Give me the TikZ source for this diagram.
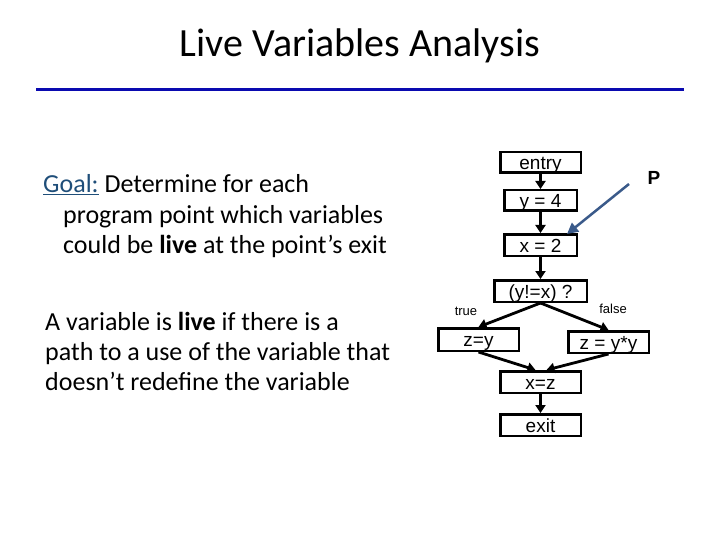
\documentclass[tikz,border=0pt]{standalone}
\usepackage{fontspec}
\setmainfont{Carlito}
\newfontfamily\flowfont{Liberation Sans}
\usetikzlibrary{arrows.meta}
\definecolor{rulecol}{HTML}{0A0AB0}
\definecolor{goalcol}{HTML}{1F4E79}
\definecolor{pcol}{HTML}{3A5A8A}
\tikzset{
  box/.style={draw=black, line width=2.5pt, inner sep=0pt, font=\flowfont\fontsize{19}{19}\selectfont, text height=14pt, text depth=0pt},
  flow/.style={line width=2.8pt, -{Triangle[length=8pt,width=10pt]}},
  lbl/.style={font=\flowfont\fontsize{13}{13}\selectfont, inner sep=0pt},
  body/.style={anchor=base west, inner sep=0pt, font=\fontsize{26}{26}\selectfont}
}
\begin{document}
\begin{tikzpicture}[x=1pt,y=-1pt]
\useasboundingbox (0,0) rectangle (720,540);
% title and rule
\node[anchor=base, inner sep=0pt, font=\fontsize{40}{40}\selectfont] (title) at (360,57) {Live Variables Analysis};
\coordinate (rl) at (36,90);
\coordinate (rr) at (684,90);
\draw[rulecol, line width=3pt] (rl) -- (rr);
% left text
\node[body] (g1) at (43,193) {\textcolor{goalcol}{\underline{Goal:}} Determine for each};
\node[body] (g2) at (63,223) {program point which variables};
\node[body] (g3) at (63,254) {could be \textbf{live} at the point’s exit};
\node[body] (a1) at (45,330) {A variable is \textbf{live} if there is a};
\node[body] (a2) at (45,360) {path to a use of the variable that};
\node[body] (a3) at (45,390) {doesn’t redefine the variable};
% flow chart
\node[box, minimum width=80.5pt, minimum height=20.5pt] (entry) at (540.5,162.5) {entry};
\node[box, minimum width=72.5pt, minimum height=20.5pt] (y4) at (540.5,200.5) {y = 4};
\node[box, minimum width=72.5pt, minimum height=21.5pt] (x2) at (540.5,245) {x = 2};
\node[box, minimum width=92.5pt, minimum height=21.5pt] (cond) at (540.5,291) {(y!=x) ?};
\node[box, minimum width=80.5pt, minimum height=22.5pt] (zy) at (478.5,339.5) {z=y};
\node[box, minimum width=80.5pt, minimum height=21.5pt] (zyy) at (608.5,342) {z = y*y};
\node[box, minimum width=80.5pt, minimum height=21.5pt] (xz) at (540.5,382) {x=z};
\node[box, minimum width=80.5pt, minimum height=21.5pt] (exit) at (540.5,425) {exit};
\draw[flow] (entry) -- (y4);
\draw[flow] (y4) -- (x2);
\draw[flow] (x2) -- (cond);
\draw[flow] (cond.south) -- (zy.north);
\draw[flow] (cond.south) -- (zyy.north);
\draw[flow] (zy.south) -- ([xshift=-5pt]xz.north);
\draw[flow] (zyy.south) -- ([xshift=6pt]xz.north);
\draw[flow] (xz) -- (exit);
\node[lbl] (tl) at (466,311) {true};
\node[lbl] (fl) at (613,309) {false};
% P pointer
\node[inner sep=0pt, font=\flowfont\bfseries\fontsize{19}{19}\selectfont] (P) at (654,178) {P};
\coordinate (pstart) at (629,184);
\draw[pcol, line width=2.5pt, -{Triangle[length=11pt,width=11pt]}] (pstart) -- ([xshift=-11pt,yshift=-1pt]x2.north east);
\end{tikzpicture}
\end{document}
